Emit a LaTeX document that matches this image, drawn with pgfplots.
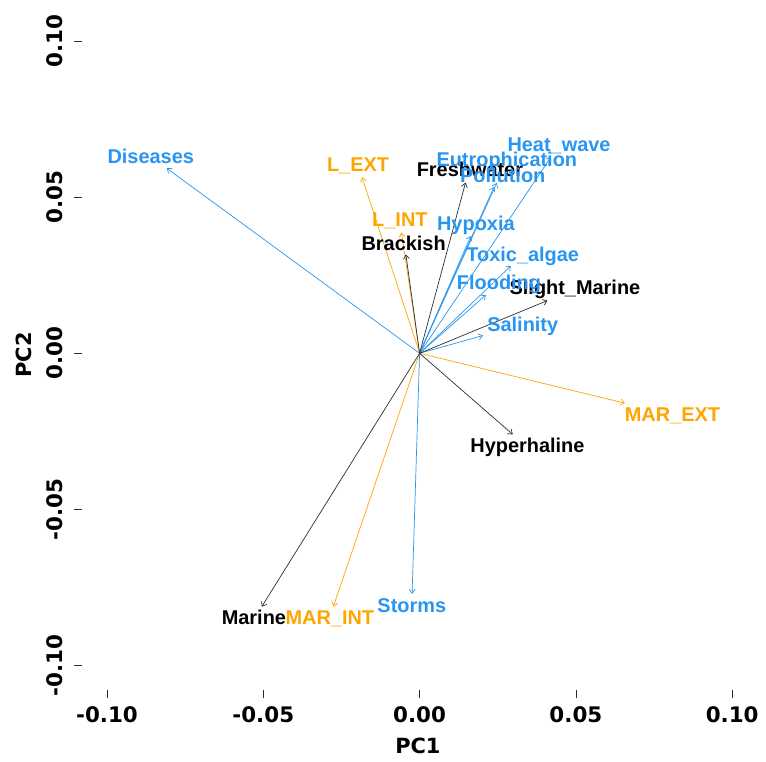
\documentclass[border=0pt]{standalone}
\usepackage{fontspec}
\setmainfont{DejaVu Sans}
\newfontfamily\labfont{Liberation Sans}
\usepackage{pgfplots}
\pgfplotsset{compat=1.18}
\usepackage{pgfplotstable}
\usetikzlibrary{arrows.meta}
\definecolor{pcblue}{RGB}{40,150,240}
\definecolor{pcorange}{RGB}{255,165,0}
\definecolor{pcgrey}{RGB}{45,45,45}

% loadings (u,v) and label positions (lx,ly, baseline)
\pgfplotstableread{
u v lx ly label
-0.0809 0.0593 -0.0860 0.0607 Diseases
0.0420 0.0629 0.0446 0.0647 Heat\_wave
0.0247 0.0546 0.0279 0.0598 Eutrophication
0.0238 0.0533 0.0266 0.0546 Pollution
0.0164 0.0376 0.0180 0.0395 Hypoxia
0.0292 0.0280 0.0330 0.0294 Toxic\_algae
0.0212 0.0187 0.0254 0.0203 Flooding
0.0203 0.0057 0.0330 0.0069 Salinity
-0.0024 -0.0771 -0.0025 -0.0832 Storms
}\stressors

\pgfplotstableread{
u v lx ly label
-0.0184 0.0564 -0.0197 0.0582 L\_EXT
-0.0058 0.0387 -0.0063 0.0406 L\_INT
0.0657 -0.0160 0.0809 -0.0219 MAR\_EXT
-0.0276 -0.0812 -0.0287 -0.0868 MAR\_INT
}\traits

\pgfplotstableread{
u v lx ly label
0.0147 0.0547 0.0161 0.0566 Freshwater
-0.0044 0.0317 -0.0051 0.0331 Brackish
0.0409 0.0169 0.0497 0.0187 Slight\_Marine
0.0298 -0.0260 0.0345 -0.0319 Hyperhaline
-0.0505 -0.0812 -0.0530 -0.0870 Marine
}\habitats

\begin{document}
\begin{tikzpicture}
\useasboundingbox (-82bp,-71.7bp) rectangle (684bp,690.3bp);
\begin{axis}[
  at={(0,0)}, anchor=south west,
  scale only axis, width=675.2bp, height=674bp,
  xmin=-0.108, xmax=0.108, ymin=-0.108, ymax=0.108,
  axis lines*=left,
  axis line style={draw=none},
  scaled ticks=false,
  xtick={-0.1,-0.05,0,0.05,0.1},
  xticklabels={-0.10,-0.05,0.00,0.05,0.10},
  ytick={-0.1,-0.05,0,0.05,0.1},
  yticklabels={-0.10,-0.05,0.00,0.05,0.10},
  tick align=outside, major tick length=7.5bp,
  tick style={pcgrey, line width=0.7bp},
  ticklabel style={font=\fontsize{21.5}{24}\selectfont\bfseries, inner sep=0pt},
  xticklabel style={anchor=north, yshift=-9bp},
  yticklabel style={xshift=-11bp, rotate=90, anchor=south},
  xlabel={PC1}, ylabel={PC2},
  label style={font=\fontsize{21}{24}\selectfont\bfseries, inner sep=0pt},
  xlabel style={at={(axis description cs:0.4975,-0.094)}, anchor=base},
  ylabel style={at={(axis description cs:-0.0745,0.4975)}, anchor=base},
  clip=false,
  every axis plot/.append style={line width=0.7bp, mark=none},
  lab/.style={draw=none, nodes near coords, point meta=explicit symbolic,
    nodes near coords style={anchor=base, inner sep=0pt,
      font=\labfont\bfseries\fontsize{20}{22}\selectfont}},
]
\addplot[pcblue, -{Straight Barb[length=4bp,width=6bp]},
  quiver={u=\thisrow{u}, v=\thisrow{v}}] table[x expr=0, y expr=0] {\stressors};
\addplot[pcorange, -{Straight Barb[length=4bp,width=6bp]},
  quiver={u=\thisrow{u}, v=\thisrow{v}}] table[x expr=0, y expr=0] {\traits};
\addplot[pcgrey, -{Straight Barb[length=4bp,width=6bp]},
  quiver={u=\thisrow{u}, v=\thisrow{v}}] table[x expr=0, y expr=0] {\habitats};

\addplot[lab, nodes near coords style={text=black}] table[x=lx, y=ly, meta=label] {\habitats};
\addplot[lab, nodes near coords style={text=pcorange}] table[x=lx, y=ly, meta=label] {\traits};
\addplot[lab, nodes near coords style={text=pcblue}] table[x=lx, y=ly, meta=label] {\stressors};
\end{axis}
\end{tikzpicture}
\end{document}
